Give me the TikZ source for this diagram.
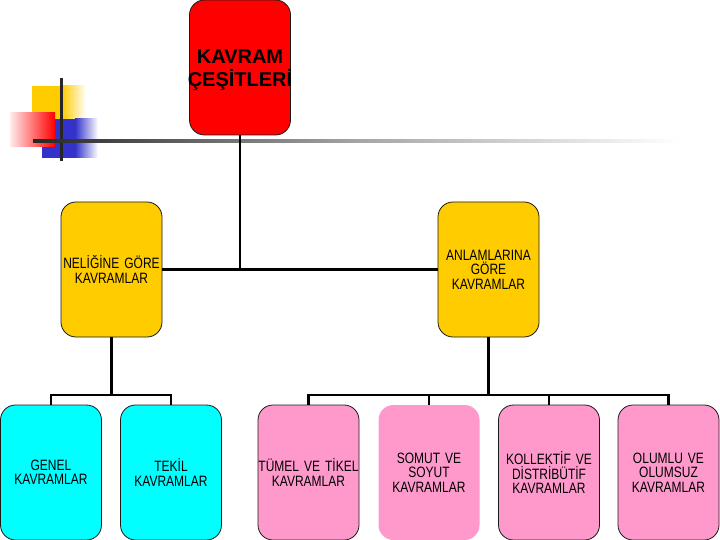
\documentclass[tikz,border=0pt]{standalone}
\usepackage{fontspec}
\setmainfont[FakeStretch=0.8]{Liberation Sans}
\newfontfamily\topfont{Liberation Sans}
\definecolor{redbox}{HTML}{FF0000}
\definecolor{yelbox}{HTML}{FFCC00}
\definecolor{cyanbox}{HTML}{00FFFF}
\definecolor{pinkbox}{HTML}{FF99CC}
\definecolor{bluesq}{HTML}{3333CC}
\definecolor{edge}{HTML}{1A1A1A}
\tikzset{
  box/.style={draw=edge, line width=0.8pt, rounded corners=15pt, minimum width=101pt,
    minimum height=135pt, align=center, inner sep=0pt, text width=101pt,
    font=\fontsize{15}{14.5}\selectfont},
  conn/.style={draw=black, line width=2.8pt},
}
\begin{document}
\begin{tikzpicture}[x={(1pt,0pt)}, y={(0pt,-1pt)}]
\useasboundingbox (0,0) rectangle (720,540);
\fill[white] (0,0) rectangle (720,540);
% decoration
\fill[yelbox] (32,86) rectangle (62,119);
\shade[left color=yelbox, right color=white] (62,86) rectangle (86,119);
\fill[bluesq] (42,119) rectangle (75,158);
\shade[left color=bluesq, right color=white] (75,119) rectangle (98,158);
\shade[left color=red!8, right color=red] (10,113) rectangle (55,147);
\fill[black!85] (59.5,78) rectangle (62.5,161);
\shade[left color=black!85, right color=black!35] (33,139.5) rectangle (360,142.5);
\shade[left color=black!35, right color=white] (360,139.5) rectangle (680,142.5);
% boxes
\node[box, fill=redbox] (top) at (240,67.5) {};
\node[align=center, inner sep=0pt, font=\topfont\bfseries\fontsize{20}{23}\selectfont] (toplabel) at (240,70.5)
  {\makebox[101pt][c]{KAVRAM}\\\makebox[101pt][c]{ÇEŞİTLERİ}};
\node[box, fill=yelbox] (neligine) at (111.5,269.5) {NELİĞİNE GÖRE\\KAVRAMLAR};
\node[box, fill=yelbox] (anlam) at (488.5,269.5) {ANLAMLARINA\\GÖRE\\KAVRAMLAR};
\node[box, fill=cyanbox] (genel) at (51,472.5) {GENEL\\KAVRAMLAR};
\node[box, fill=cyanbox] (tekil) at (171,472.5) {TEKİL\\KAVRAMLAR};
\node[box, fill=pinkbox] (tumel) at (308.5,472.5) {TÜMEL VE TİKEL\\KAVRAMLAR};
\node[box, fill=pinkbox, draw=none] (somut) at (429,472.5) {SOMUT VE\\SOYUT\\KAVRAMLAR};
\node[box, fill=pinkbox] (kollektif) at (549,472.5) {KOLLEKTİF VE\\DİSTRİBÜTİF\\KAVRAMLAR};
\node[box, fill=pinkbox] (olumlu) at (668.5,472.5) {OLUMLU VE\\OLUMSUZ\\KAVRAMLAR};
% connectors
\coordinate (busL) at (111.5,395);
\coordinate (busR) at (488.5,395);
\draw[conn] (top.south) -- (top.south |- neligine.east);
\draw[conn] (neligine.east) -- (anlam.west);
\draw[conn] (neligine.south) -- (busL);
\draw[conn] (anlam.south) -- (busR);
\draw[conn, line join=miter] (genel.north) -- (genel.north |- busL) -| (tekil.north);
\draw[conn, line join=miter] (tumel.north) -- (tumel.north |- busR) -| (olumlu.north);
\draw[conn] (somut.north) -- (somut.north |- busR);
\draw[conn] (kollektif.north) -- (kollektif.north |- busR);
\end{tikzpicture}
\end{document}
